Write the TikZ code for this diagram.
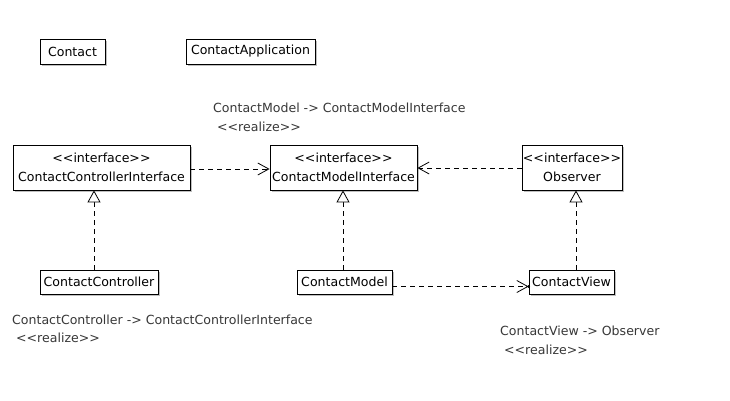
\documentclass[tikz,border=0pt]{standalone}
\usepackage{fontspec}
\setmainfont{DejaVu Sans}
\usetikzlibrary{arrows.meta,shadows}
\newcommand{\LL}{<\kern0pt<}
\newcommand{\GG}{>\kern0pt>}
\begin{document}
\begin{tikzpicture}[x=1bp,y=-1bp,
  cls/.style={draw=black,fill=white,line width=0.8bp,inner sep=0pt,align=center,
    font=\fontsize{12.6}{19}\selectfont,
    drop shadow={shadow xshift=2bp,shadow yshift=-2bp,opacity=0.25,fill=black}},
  lbl/.style={anchor=west,inner sep=0pt,text=black!78,font=\fontsize{12.6}{14}\selectfont},
  realize/.style={draw=black,line width=0.8bp,dash pattern=on 5bp off 4bp,
    -{Triangle[open,length=12bp,width=13bp,line width=0.8bp,fill=white]}},
  dep/.style={draw=black,line width=0.8bp,dash pattern=on 5bp off 4bp,
    -{Straight Barb[length=11bp,width=12bp,line width=0.8bp]}}]
\useasboundingbox (0,0) rectangle (730,400);
\fill[white] (0,0) rectangle (730,400);

\node[cls,minimum width=65bp,minimum height=25bp] (Contact) at (72.5,51.5) {Contact};
\node[cls,minimum width=129bp,minimum height=25bp] (App) at (250.5,51.5) {ContactApplication};

\node[cls,minimum width=177bp,minimum height=45bp] (CCI) at (101.5,167.5) {\LL interface\GG\\ContactControllerInterface};
\node[cls,minimum width=147bp,minimum height=45bp] (CMI) at (343.5,167.5) {\LL interface\GG\\ContactModelInterface};
\node[cls,minimum width=100bp,minimum height=45bp] (Obs) at (572,167.5) {\LL interface\GG\\Observer};

\node[cls,minimum width=118bp,minimum height=24bp] (CC) at (99,282) {ContactController};
\node[cls,minimum width=95bp,minimum height=24bp] (CM) at (344.5,282) {ContactModel};
\node[cls,minimum width=85bp,minimum height=24bp] (CV) at (571.5,282) {ContactView};

\draw[realize] ([xshift=-5bp]CC.north) -- ([xshift=-5bp]CC.north |- CCI.south);
\draw[realize] ([xshift=-1.5bp]CM.north) -- ([xshift=-1.5bp]CM.north |- CMI.south);
\draw[realize] ([xshift=4.5bp]CV.north) -- ([xshift=4.5bp]CV.north |- Obs.south);

\draw[dep] ([yshift=-1.5bp]CCI.east) -- ([yshift=-1.5bp]CMI.west);
\draw[dep] ([yshift=-0.5bp]Obs.west) -- ([yshift=-0.5bp]CMI.east);
\draw[dep] ([yshift=-4.5bp]CM.east) -- ([yshift=-4.5bp]CV.west);
\fill ([yshift=-4.5bp]CV.west) circle (1.5bp);

\node[lbl] (l1a) at (213,108) {ContactModel -> ContactModelInterface};
\node[lbl] (l1b) at (217,127) {\LL realize\GG};
\node[lbl] (l2a) at (12,320) {ContactController -> ContactControllerInterface};
\node[lbl] (l2b) at (16,338) {\LL realize\GG};
\node[lbl] (l3a) at (500,331) {ContactView -> Observer};
\node[lbl] (l3b) at (504,350) {\LL realize\GG};
\end{tikzpicture}
\end{document}
